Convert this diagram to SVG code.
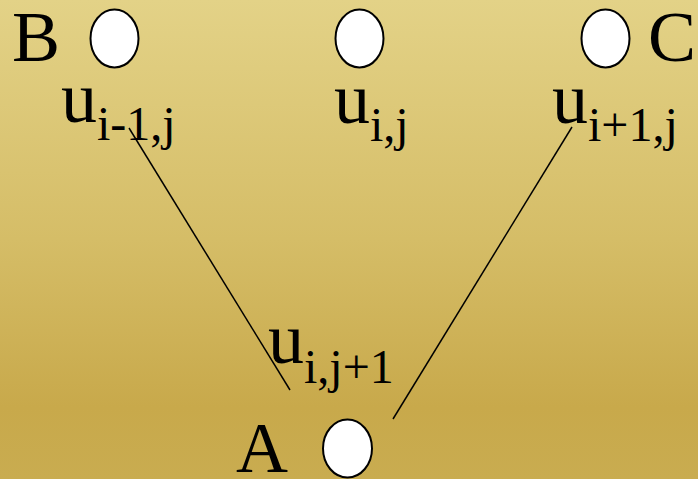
<svg xmlns="http://www.w3.org/2000/svg" width="698" height="479" viewBox="0 0 698 479">
<defs>
<linearGradient id="bg" x1="0" y1="0" x2="0" y2="1">
<stop offset="0" stop-color="#e3d287"/>
<stop offset="0.5" stop-color="#d5bd67"/>
<stop offset="0.85" stop-color="#c8a94b"/>
<stop offset="1" stop-color="#c9ac50"/>
</linearGradient>
<style>
.t{font-family:"Liberation Serif","Times New Roman",serif;fill:#000;font-size:72px}
.s{font-size:48px}
.n{fill:#fff;stroke:#000;stroke-width:2}
.c{stroke:#000;stroke-width:1.5;fill:none}
</style>
</defs>
<rect width="698" height="479" fill="url(#bg)"/>
<g id="connectors">
<line class="c" x1="129" y1="128" x2="290" y2="390"/>
<line class="c" x1="572" y1="127" x2="393" y2="419"/>
</g>
<g id="nodeB">
<ellipse class="n" cx="114.5" cy="38.5" rx="24" ry="29"/>
<text class="t" x="12" y="61">B</text>
</g>
<g id="nodeMid">
<ellipse class="n" cx="359.5" cy="38.5" rx="24" ry="29"/>
</g>
<g id="nodeC">
<ellipse class="n" cx="605.5" cy="38.5" rx="24" ry="29"/>
<text class="t" x="648" y="61">C</text>
</g>
<g id="nodeA">
<ellipse class="n" cx="347.5" cy="448.5" rx="24.5" ry="29"/>
<text class="t" x="236" y="472">A</text>
</g>
<g id="label-uim1j">
<text class="t" x="61" y="122">u<tspan class="s" dy="18">i-1,j</tspan></text>
</g>
<g id="label-uij">
<text class="t" x="334" y="123">u<tspan class="s" dy="18">i,j</tspan></text>
</g>
<g id="label-uip1j">
<text class="t" x="552" y="123">u<tspan class="s" dy="18">i+1,j</tspan></text>
</g>
<g id="label-uijp1">
<text class="t" x="268" y="363">u<tspan class="s" dy="20">i,j+1</tspan></text>
</g>
</svg>
